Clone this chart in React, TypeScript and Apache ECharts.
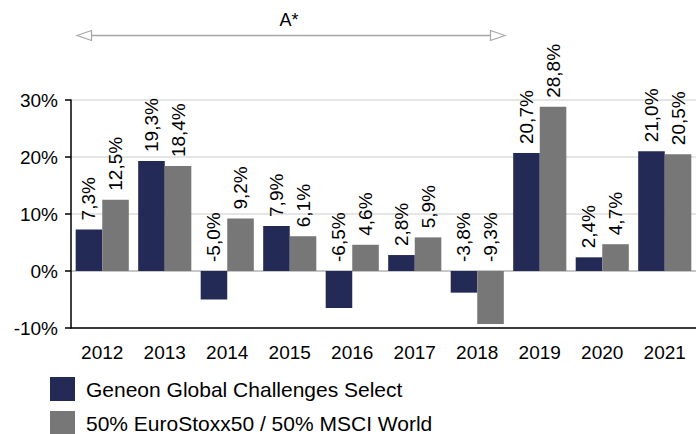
import React, { useEffect, useRef } from "react";
import * as echarts from "echarts";

const years = ["2012", "2013", "2014", "2015", "2016", "2017", "2018", "2019", "2020", "2021"];
const geneon = [7.3, 19.3, -5.0, 7.9, -6.5, 2.8, -3.8, 20.7, 2.4, 21.0];
const benchmark = [12.5, 18.4, 9.2, 6.1, 4.6, 5.9, -9.3, 28.8, 4.7, 20.5];
const seriesNames = ["Geneon Global Challenges Select", "50% EuroStoxx50 / 50% MSCI World"];
const yTicks = [-10, 0, 10, 20, 30];
const periodLabel = "A*";

const FONT = "'Liberation Sans', Arial, sans-serif";
const NAVY = "#242a56";
const GRAY = "#777777";

const fmt = (v: number) => v.toFixed(1).replace(".", ",") + "%";

export default function App() {
  const ref = useRef<HTMLDivElement>(null);
  useEffect(() => {
    if (!ref.current) return;
    const chart = echarts.init(ref.current, null, { renderer: "svg" });
    const label = {
      show: true,
      position: "top" as const,
      rotate: 90,
      align: "left" as const,
      verticalAlign: "middle" as const,
      distance: 9,
      fontSize: 19,
      fontFamily: FONT,
      color: "#000",
      formatter: (p: any) => fmt(p.value),
    };
    chart.setOption({
      animation: false,
      textStyle: { fontFamily: FONT },
      grid: { left: 71, right: 0, top: 100, bottom: 106, containLabel: false },
      legend: {
        orient: "vertical",
        left: 50,
        top: 377,
        height: 100,
        padding: 0,
        icon: "rect",
        itemWidth: 25,
        itemHeight: 24,
        itemGap: 10,
        textStyle: { fontSize: 21, fontFamily: FONT, color: "#000", padding: [0, 0, 0, 6] },
        data: seriesNames,
      },
      xAxis: {
        type: "category",
        data: years,
        position: "bottom",
        axisLine: { onZero: false, lineStyle: { color: "#000", width: 1.5 } },
        axisTick: { alignWithLabel: true, length: 5, lineStyle: { color: "#000", width: 1.5 } },
        axisLabel: { fontSize: 19, fontFamily: FONT, color: "#000", margin: 15 },
      },
      yAxis: {
        type: "value",
        min: yTicks[0],
        max: yTicks[yTicks.length - 1],
        interval: 10,
        axisLine: { show: true, lineStyle: { color: "#000", width: 1.5 } },
        axisTick: { show: true, length: 6, lineStyle: { color: "#000", width: 1.5 } },
        axisLabel: { fontSize: 19, fontFamily: FONT, color: "#000", margin: 13, formatter: "{value}%" },
        splitLine: {
          show: true,
          lineStyle: { color: ["#dcdcdc", "#b4b4b4", "#dcdcdc", "#dcdcdc", "#dcdcdc"], width: 1.5 },
        },
      },
      series: [
        {
          name: seriesNames[0],
          type: "bar",
          data: geneon,
          barWidth: "42.5%",
          barGap: "0%",
          itemStyle: { color: NAVY },
          label,
        },
        {
          name: seriesNames[1],
          type: "bar",
          data: benchmark,
          barWidth: "42.5%",
          barGap: "0%",
          itemStyle: { color: GRAY },
          label,
        },
      ],
      graphic: [
        {
          type: "line",
          shape: { x1: 91, y1: 35.5, x2: 491, y2: 35.5 },
          style: { stroke: "#a6a6a6", lineWidth: 1.5 },
        },
        {
          type: "polygon",
          shape: { points: [[77, 35.5], [91.5, 30.5], [91.5, 40.5]] },
          style: { stroke: "#a6a6a6", fill: "#fff", lineWidth: 1.2 },
        },
        {
          type: "polygon",
          shape: { points: [[505, 35.5], [490.5, 30.5], [490.5, 40.5]] },
          style: { stroke: "#a6a6a6", fill: "#fff", lineWidth: 1.2 },
        },
        {
          type: "text",
          x: 289,
          y: 20,
          style: {
            text: periodLabel,
            fontSize: 18,
            fontFamily: FONT,
            fill: "#000",
            align: "center",
            verticalAlign: "middle",
          },
        },
      ],
    });
    return () => chart.dispose();
  }, []);
  return <div ref={ref} style={{ width: 696, height: 434, position: "absolute", left: 0, top: 0 }} />;
}
